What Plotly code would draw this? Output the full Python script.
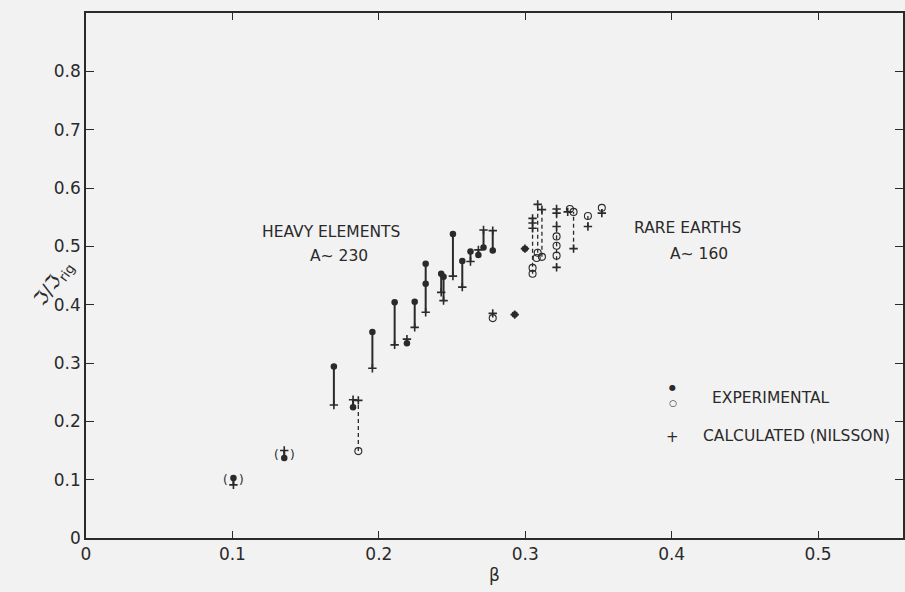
import plotly.graph_objects as go

# ---- data ----
filled_beta = [0.1007, 0.1354, 0.1693, 0.1824, 0.1956, 0.2108, 0.2192, 0.2245, 0.2320, 0.2320,
               0.2426, 0.2442, 0.2506, 0.2570, 0.2626, 0.2680, 0.2715, 0.2778, 0.2928, 0.2998]
filled_val = [0.103, 0.137, 0.294, 0.224, 0.353, 0.404, 0.334, 0.405, 0.470, 0.436,
              0.453, 0.448, 0.521, 0.475, 0.491, 0.485, 0.498, 0.493, 0.383, 0.496]

open_beta = [0.1860, 0.2778, 0.3050, 0.3050, 0.3085, 0.3114, 0.3078, 0.3214, 0.3214, 0.3214,
             0.3305, 0.3330, 0.3428, 0.3523]
open_val = [0.149, 0.377, 0.463, 0.453, 0.489, 0.482, 0.480, 0.517, 0.501, 0.484,
            0.564, 0.559, 0.552, 0.566]

calc_beta = [0.1007, 0.1354, 0.1693, 0.1824, 0.1860, 0.1956, 0.2108, 0.2192, 0.2245, 0.2320,
             0.2426, 0.2442, 0.2506, 0.2570, 0.2626, 0.2680, 0.2715, 0.2778, 0.2778, 0.2928,
             0.2998, 0.3050, 0.3050, 0.3050, 0.3085, 0.3114, 0.3214, 0.3214, 0.3214, 0.3214,
             0.3290, 0.3330, 0.3428, 0.3523]
calc_val = [0.091, 0.150, 0.228, 0.237, 0.236, 0.291, 0.331, 0.341, 0.361, 0.387,
            0.421, 0.407, 0.449, 0.430, 0.474, 0.494, 0.528, 0.527, 0.385, 0.383,
            0.496, 0.548, 0.540, 0.531, 0.572, 0.563, 0.564, 0.557, 0.534, 0.464,
            0.559, 0.496, 0.534, 0.557]

# solid connectors (heavy elements): beta, low, high
solid_beta = [0.1007, 0.1354, 0.1693, 0.1824, 0.1956, 0.2108, 0.2192, 0.2245, 0.2320,
              0.2426, 0.2442, 0.2506, 0.2570, 0.2626, 0.2680, 0.2715, 0.2778]
solid_lo = [0.091, 0.137, 0.228, 0.224, 0.291, 0.331, 0.334, 0.361, 0.387,
            0.421, 0.407, 0.449, 0.430, 0.474, 0.485, 0.498, 0.493]
solid_hi = [0.103, 0.150, 0.294, 0.237, 0.353, 0.404, 0.341, 0.405, 0.470,
            0.453, 0.448, 0.521, 0.475, 0.491, 0.494, 0.528, 0.527]

# dashed connectors (rare earths etc.)
dash_beta = [0.1860, 0.3050, 0.3085, 0.3114, 0.3214, 0.3330, 0.3428, 0.3523]
dash_lo = [0.149, 0.453, 0.489, 0.482, 0.464, 0.496, 0.534, 0.557]
dash_hi = [0.236, 0.548, 0.572, 0.563, 0.564, 0.559, 0.552, 0.566]

# points shown in parentheses
paren_beta = [0.1007, 0.1354]
paren_val = [0.099, 0.142]

x_ticks = [0, 0.1, 0.2, 0.3, 0.4, 0.5]
x_ticktext = ["0", "0.1", "0.2", "0.3", "0.4", "0.5"]
y_ticks = [0, 0.1, 0.2, 0.3, 0.4, 0.5, 0.6, 0.7, 0.8]
y_ticktext = ["0", "0.1", "0.2", "0.3", "0.4", "0.5", "0.6", "0.7", "0.8"]

INK = "#2a2a2a"
BG = "#f2f2f2"
FONT = "DejaVu Sans"


def segs(bs, lo, hi):
    xs, ys = [], []
    for b, l, h in zip(bs, lo, hi):
        xs += [b, b, None]
        ys += [l, h, None]
    return xs, ys


fig = go.Figure()

sx, sy = segs(solid_beta, solid_lo, solid_hi)
fig.add_trace(go.Scatter(x=sx, y=sy, mode="lines",
                         line=dict(color=INK, width=2), hoverinfo="skip"))
dx, dy = segs(dash_beta, dash_lo, dash_hi)
fig.add_trace(go.Scatter(x=dx, y=dy, mode="lines",
                         line=dict(color=INK, width=1.3, dash="4px,3px"), hoverinfo="skip"))

fig.add_trace(go.Scatter(x=calc_beta, y=calc_val, mode="markers",
                         marker=dict(symbol="cross-thin", size=6,
                                     line=dict(color=INK, width=1.6))))
fig.add_trace(go.Scatter(x=open_beta, y=open_val, mode="markers",
                         marker=dict(symbol="circle-open", size=7, color=INK,
                                     line=dict(color=INK, width=1.1))))
fig.add_trace(go.Scatter(x=filled_beta, y=filled_val, mode="markers",
                         marker=dict(symbol="circle", size=6.5, color=INK)))

anns = []
for b, v in zip(paren_beta, paren_val):
    anns.append(dict(x=b - 0.0055, y=v, xref="x", yref="y", text="(", showarrow=False,
                     font=dict(family=FONT, size=12, color=INK)))
    anns.append(dict(x=b + 0.0055, y=v, xref="x", yref="y", text=")", showarrow=False,
                     font=dict(family=FONT, size=12, color=INK)))

def ptext(x, y, text, size=15.5, xanchor="center"):
    anns.append(dict(x=x, y=y, xref="paper", yref="paper", text=text, showarrow=False,
                     xanchor=xanchor, yanchor="middle",
                     font=dict(family=FONT, size=size, color=INK)))

ptext(0.3004, 0.583, "HEAVY ELEMENTS")
ptext(0.310, 0.537, "A∼ 230")
ptext(0.7363, 0.590, "RARE EARTHS")
ptext(0.7497, 0.541, "A∼ 160")
ptext(0.7183, 0.286, "●", size=8)
ptext(0.7183, 0.258, "○", size=9)
ptext(0.764, 0.2661, "EXPERIMENTAL", xanchor="left")
ptext(0.7183, 0.193, "+", size=15)
ptext(0.753, 0.194, "CALCULATED (NILSSON)", xanchor="left")

# y-axis title (slanted)
anns.append(dict(x=-0.074, y=0.485, xref="paper", yref="paper",
                 text="ℑ/ℑ<sub>rig</sub>", showarrow=False, textangle=-55,
                 font=dict(family=FONT, size=19, color=INK)))

fig.update_layout(
    width=905, height=592,
    margin=dict(l=86, r=0, t=13, b=54),
    paper_bgcolor=BG, plot_bgcolor=BG,
    showlegend=False,
    annotations=anns,
    font=dict(family=FONT, color=INK),
)
fig.update_xaxes(range=[0, 0.558], tickvals=x_ticks, ticktext=x_ticktext,
                 ticks="inside", ticklen=7, tickwidth=1.4, tickcolor=INK,
                 showline=True, linecolor=INK, linewidth=1.5, mirror="allticks",
                 showgrid=False, zeroline=False,
                 tickfont=dict(family=FONT, size=17, color=INK),
                 title=dict(text="β", font=dict(family=FONT, size=17, color=INK), standoff=6))
fig.update_yaxes(range=[0, 0.9], tickvals=y_ticks, ticktext=y_ticktext,
                 ticks="inside", ticklen=8, tickwidth=1.4, tickcolor=INK,
                 showline=True, linecolor=INK, linewidth=1.5, mirror="allticks",
                 showgrid=False, zeroline=False,
                 tickfont=dict(family=FONT, size=17, color=INK))

fig.write_html("out.html")
